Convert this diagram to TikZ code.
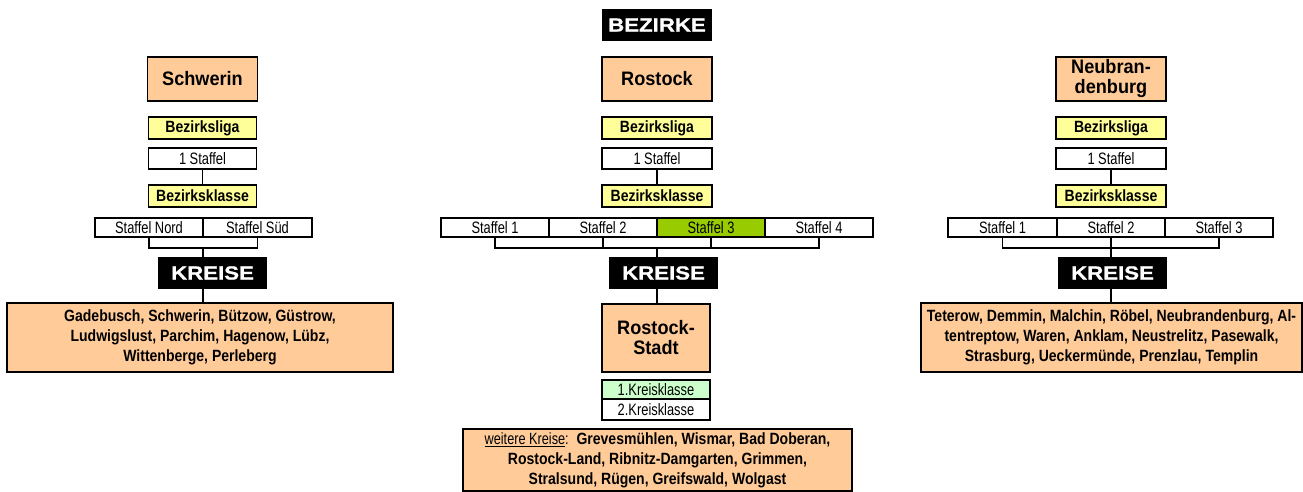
\documentclass[tikz,border=0pt]{standalone}
\usepackage{fontspec}
\setmainfont{Liberation Sans}
\newfontfamily\nrw{Liberation Sans}[FakeStretch=0.78]
\newfontfamily\bnrw{Liberation Sans}[FakeStretch=0.86]
\newfontfamily\bigf{Liberation Sans}[FakeStretch=0.93]
\newfontfamily\heavy{Liberation Sans}[FakeStretch=1.17,FakeBold=1]
\definecolor{apricot}{HTML}{FFCC99}
\definecolor{paleyellow}{HTML}{FFFF99}
\definecolor{limegreen}{HTML}{99CC00}
\definecolor{mintgreen}{HTML}{CCFFCC}
\begin{document}
\begin{tikzpicture}[x=1pt,y=-1pt,
  cell/.style={draw, line width=1.5pt, inner sep=0pt, align=center,
    minimum width=108pt, minimum height=21pt,
    font=\nrw\fontsize{16.5}{18}\selectfont},
  staffelcell/.style={cell, minimum height=19pt},
  liga/.style={cell, fill=paleyellow, minimum height=22pt,
    font=\bnrw\bfseries\fontsize{16.3}{18}\selectfont},
  district/.style={cell, fill=apricot, minimum width=110pt, minimum height=44pt,
    font=\bigf\bfseries\fontsize{19.5}{20}\selectfont},
  banner/.style={fill=black, text=white, inner sep=0pt,
    minimum width=109pt, minimum height=32pt,
    font=\heavy\bfseries\fontsize{19}{20}\selectfont},
  roster/.style={cell, fill=apricot, minimum height=69pt,
    font=\bnrw\bfseries\fontsize{16.3}{20}\selectfont},
  link/.style={line width=1.5pt}]
\useasboundingbox (0,0) rectangle (1303,492);

% ---------- header ----------
\node[banner, minimum width=110pt] (bezirke) at (657,25) {BEZIRKE};

% ---------- Schwerin ----------
\node[district] (schw) at (202.5,79) {Schwerin};
\node[liga] (schwL) at (202.5,128) {Bezirksliga};
\node[cell] (schwS) at (202.5,158.5) {1 Staffel};
\node[liga] (schwK) at (202.5,196) {Bezirksklasse};
\node[staffelcell] (nord) at (149,227.5) {Staffel Nord};
\node[staffelcell, minimum width=109pt] (sued) at (257.5,227.5) {Staffel Süd};
\coordinate (schwJ) at (203,248);
\node[banner] (kr1) at (212.5,273) {KREISE};
\node[roster, minimum width=386pt] (list1) at (200,337.5)
  {Gadebusch, Schwerin, Bützow, Güstrow,\\
   Ludwigslust, Parchim, Hagenow, Lübz,\\
   Wittenberge, Perleberg};

\draw[link] (schwS) -- (schwK);
\draw[link] (nord.south) |- (schwJ) -| (sued.south);
\draw[link] (schwJ) -- (schwJ |- kr1.north);
\draw[link] (schwJ |- kr1.south) -- (schwJ |- list1.north);

% ---------- Rostock ----------
\node[district] (ros) at (657,79) {Rostock};
\node[liga, minimum width=110pt] (rosL) at (657,128) {Bezirksliga};
\node[cell, minimum width=110pt] (rosS) at (657,158.5) {1 Staffel};
\node[liga, minimum width=110pt] (rosK) at (657,196) {Bezirksklasse};
\node[staffelcell] (r1) at (495,227.5) {Staffel 1};
\node[staffelcell] (r2) at (603,227.5) {Staffel 2};
\node[staffelcell, fill=limegreen] (r3) at (711,227.5) {Staffel 3};
\node[staffelcell] (r4) at (819,227.5) {Staffel 4};
\coordinate (rosJ) at (657,248);
\node[banner] (kr2) at (663.5,273) {KREISE};
\node[district, minimum width=108pt, minimum height=68pt] (rstadt) at (656,338)
  {Rostock-\\Stadt};
\node[staffelcell, fill=mintgreen] (kk1) at (656,389.5) {1.Kreisklasse};
\node[cell] (kk2) at (656,409.5) {2.Kreisklasse};
\node[roster, minimum width=389pt, minimum height=62pt] (more) at (657.5,460)
  {{\nrw\mdseries\underline{weitere Kreise}:}\ \ Grevesmühlen, Wismar, Bad Doberan,\\
   Rostock-Land, Ribnitz-Damgarten, Grimmen,\\
   Stralsund, Rügen, Greifswald, Wolgast};

\draw[link] (rosS) -- (rosK);
\draw[link] (r1.south) |- (rosJ) -| (r4.south);
\draw[link] (r2.south) -- (r2.south |- rosJ);
\draw[link] (r3.south) -- (r3.south |- rosJ);
\draw[link] (rosJ) -- (rosJ |- kr2.north);
\draw[link] (rosJ |- kr2.south) -- (rosJ |- rstadt.north);

% ---------- Neubrandenburg ----------
\node[district] (nb) at (1111,79) {Neubran-\\denburg};
\node[liga, minimum width=110pt] (nbL) at (1111,128) {Bezirksliga};
\node[cell, minimum width=110pt] (nbS) at (1111,158.5) {1 Staffel};
\node[liga, minimum width=110pt] (nbK) at (1111,196) {Bezirksklasse};
\node[staffelcell, minimum width=109pt] (n1) at (1002.5,227.5) {Staffel 1};
\node[staffelcell] (n2) at (1111,227.5) {Staffel 2};
\node[staffelcell] (n3) at (1219,227.5) {Staffel 3};
\coordinate (nbJ) at (1111,248);
\node[banner] (kr3) at (1112.5,273) {KREISE};
\node[roster, minimum width=381pt] (list3) at (1111.5,337.5)
  {Teterow, Demmin, Malchin, Röbel, Neubrandenburg, Al-\\
   tentreptow, Waren, Anklam, Neustrelitz, Pasewalk,\\
   Strasburg, Ueckermünde, Prenzlau, Templin};

\draw[link] (nbS) -- (nbK);
\draw[link] (n1.south) |- (nbJ) -| (n3.south);
\draw[link] (n2.south) -- (nbJ);
\draw[link] (nbJ) -- (nbJ |- kr3.north);
\draw[link] (nbJ |- kr3.south) -- (nbJ |- list3.north);
\end{tikzpicture}
\end{document}
